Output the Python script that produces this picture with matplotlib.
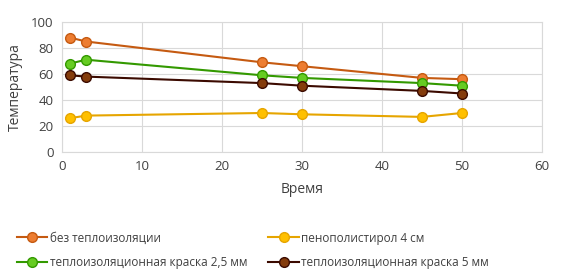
import matplotlib.pyplot as plt

plt.rcParams['font.family'] = ['Open Sans', 'DejaVu Sans']

# data
time = [1, 3, 25, 30, 45, 50]
no_insulation = [88, 85, 69, 66, 57, 56]
polystyrene = [26, 28, 30, 29, 27, 30]
paint_25 = [68, 71, 59, 57, 53, 51]
paint_5 = [59, 58, 53, 51, 47, 45]

labels = ['без теплоизоляции', 'пенополистирол 4 см',
          'теплоизоляционная краска 2,5 мм', 'теплоизоляционная краска 5 мм']
series = [no_insulation, polystyrene, paint_25, paint_5]
line_colors = ['#C55A11', '#E6A500', '#339900', '#3B0A00']
face_colors = ['#ED7D31', '#FFC000', '#66CC22', '#843C0C']

fig = plt.figure(figsize=(5.62, 2.80), dpi=100)
ax = fig.add_axes([62 / 562, 1 - 152 / 280, 480 / 562, 130 / 280])

for ys, lab, lc, fc in zip(series, labels, line_colors, face_colors):
    ax.plot(time, ys, color=lc, lw=1.5, marker='o', ms=7,
            markerfacecolor=fc, markeredgecolor=lc, markeredgewidth=1, label=lab)

ax.set_xlim(0, 60)
ax.set_ylim(0, 100)
ax.set_xticks(range(0, 61, 10))
ax.set_yticks(range(0, 101, 20))
ax.grid(True, color='#D9D9D9', lw=0.8)
ax.set_axisbelow(True)
for s in ax.spines.values():
    s.set_color('#D9D9D9')
ax.tick_params(length=0, labelsize=9.5, colors='#404040', pad=6)
ax.set_xlabel('Время', fontsize=10, color='#404040', labelpad=6)
ax.set_ylabel('Температура', fontsize=10, color='#404040', labelpad=6)

# legend order: row-wise (two columns)
handles, labs = ax.get_legend_handles_labels()
order = [0, 2, 1, 3]
fig.legend([handles[i] for i in order], [labs[i] for i in order],
           ncol=2, loc='lower left', bbox_to_anchor=(6 / 562, 0.0),
           frameon=False, fontsize=8.5, handlelength=2.6, columnspacing=1.8,
           labelcolor='#404040', handletextpad=0.2, labelspacing=1.0)

fig.savefig('out.png', dpi=100)
